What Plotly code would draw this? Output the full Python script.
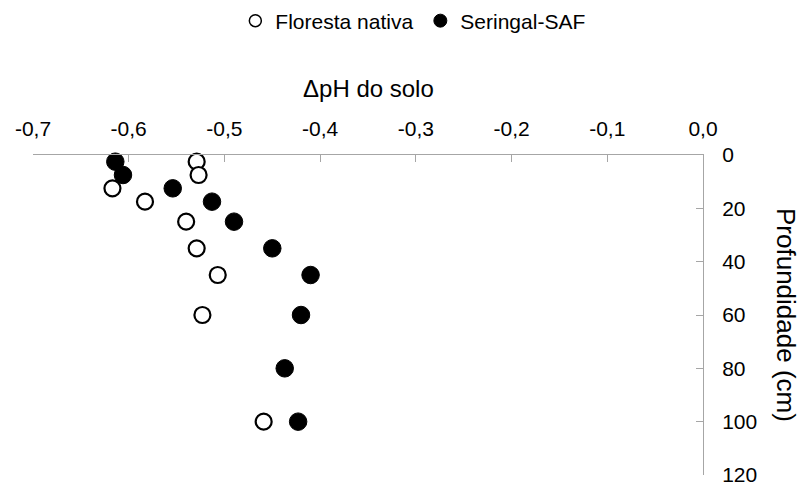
import plotly.graph_objects as go

# ---- data ----
floresta_depth = [2.5, 7.5, 12.5, 17.5, 25, 35, 45, 60, 100]
floresta_dph = [-0.529, -0.527, -0.617, -0.583, -0.540, -0.529, -0.507, -0.523, -0.459]

seringal_depth = [2.5, 7.5, 12.5, 17.5, 25, 35, 45, 60, 80, 100]
seringal_dph = [-0.614, -0.606, -0.554, -0.513, -0.490, -0.450, -0.410, -0.420, -0.437, -0.423]

x_tickvals = [-0.7, -0.6, -0.5, -0.4, -0.3, -0.2, -0.1, 0.0]
x_ticktext = ["-0,7", "-0,6", "-0,5", "-0,4", "-0,3", "-0,2", "-0,1", "0,0"]
y_tickvals = [0, 20, 40, 60, 80, 100, 120]

series_names = ["Floresta nativa", "Seringal-SAF"]

AXIS_GRAY = "#a6a6a6"
FONT = "Liberation Sans, Arial, sans-serif"

fig = go.Figure()

# plotted points
fig.add_trace(go.Scatter(
    x=floresta_dph, y=floresta_depth, mode="markers", showlegend=False,
    marker=dict(symbol="circle", size=16, color="white", line=dict(color="black", width=2.2)),
    cliponaxis=False,
))
fig.add_trace(go.Scatter(
    x=seringal_dph, y=seringal_depth, mode="markers", showlegend=False,
    marker=dict(symbol="circle", size=17.5, color="black", line=dict(color="black", width=1)),
    cliponaxis=False,
))

# legend-only entries (smaller symbols as in the reference legend)
fig.add_trace(go.Scatter(
    x=[None], y=[None], mode="markers", name=series_names[0],
    marker=dict(symbol="circle", size=12, color="white", line=dict(color="black", width=1.5)),
))
fig.add_trace(go.Scatter(
    x=[None], y=[None], mode="markers", name=series_names[1],
    marker=dict(symbol="circle", size=13, color="black", line=dict(color="black", width=1)),
))

fig.update_layout(
    width=800, height=485,
    margin=dict(l=33, r=97, t=155, b=10, autoexpand=False),
    paper_bgcolor="white", plot_bgcolor="white",
    font=dict(family=FONT, color="black", size=20),
    showlegend=True,
    legend=dict(
        orientation="h", x=0.302, xanchor="left", y=1.41875, yanchor="middle",
        font=dict(family=FONT, size=21, color="black"),
        itemsizing="trace", entrywidth=140, entrywidthmode="pixels",
        bgcolor="rgba(0,0,0,0)",
    ),
    xaxis=dict(
        side="top", range=[-0.7, 0.0], tickvals=x_tickvals, ticktext=x_ticktext,
        showgrid=False, zeroline=False, showline=True, linecolor=AXIS_GRAY, linewidth=1,
        ticks="inside", ticklen=7, tickcolor=AXIS_GRAY, tickwidth=1,
        tickfont=dict(size=21, color="black"), ticklabelstandoff=10,
        ticklabeloverflow="allow",
    ),
    yaxis=dict(
        side="right", range=[120, 0], tickvals=y_tickvals,
        showgrid=False, zeroline=False, showline=True, linecolor=AXIS_GRAY, linewidth=1,
        ticks="inside", ticklen=7, tickcolor=AXIS_GRAY, tickwidth=1,
        tickfont=dict(size=21, color="black"), ticklabelstandoff=14,
        ticklabeloverflow="allow",
    ),
    annotations=[
        dict(text="ΔpH do solo", xref="paper", yref="paper", x=0.5, y=1.0,
             yshift=51, xanchor="center", yanchor="bottom", showarrow=False,
             font=dict(size=24, color="black", family=FONT)),
        dict(text="Profundidade (cm)", xref="paper", yref="paper", x=1.0, y=0.5,
             xshift=83, xanchor="center", yanchor="middle", showarrow=False, textangle=90,
             font=dict(size=26, color="black", family=FONT)),
    ],
)

fig.write_html("out.html", config={"displayModeBar": False},
               post_script="document.body.style.margin='0';document.body.style.padding='0';")
